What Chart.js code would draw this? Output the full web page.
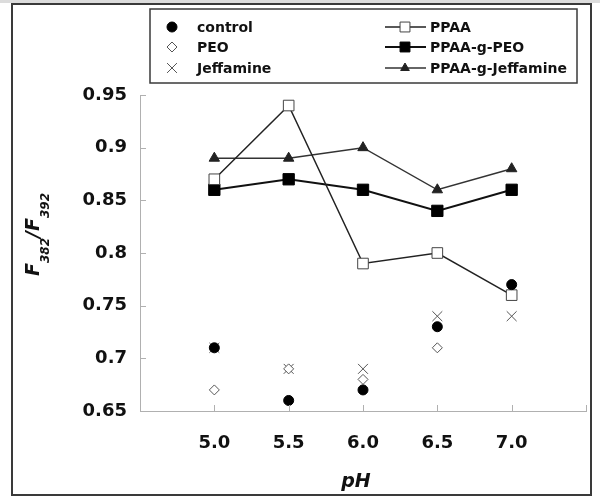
<!DOCTYPE html>
<html>
<head>
<meta charset="utf-8">
<script src="https://cdn.jsdelivr.net/npm/chart.js"></script>
<style>
  html, body { margin: 0; padding: 0; background: #fff; }
  #wrap { position: relative; width: 600px; height: 502px; }
  #strip { position: absolute; left: 0; top: 0; width: 600px; height: 3px; background: #dcdcdc; }
  #frame { position: absolute; left: 11px; top: 3px; width: 577px; height: 489px; border: 2px solid #3a3a3a; }
  canvas { position: absolute; left: 0; top: 0; }
</style>
</head>
<body>
<div id="wrap">
  <div id="strip"></div>
  <div id="frame"></div>
  <canvas id="chart" width="600" height="502"></canvas>
</div>
<script>
// pH values and measured F382/F392 ratios
const phValues = [5.0, 5.5, 6.0, 6.5, 7.0];
const xTickValues = [4.5, 5.0, 5.5, 6.0, 6.5, 7.0, 7.5];
const yTickValues = [0.65, 0.7, 0.75, 0.8, 0.85, 0.9, 0.95];

const control = [0.71, 0.66, 0.67, 0.73, 0.77];
const peo = [0.67, 0.69, 0.68, 0.71, null];
const jeffamine = [0.71, 0.69, 0.69, 0.74, 0.74];
const ppaa = [0.87, 0.94, 0.79, 0.80, 0.76];
const ppaaGPeo = [0.86, 0.87, 0.86, 0.84, 0.86];
const ppaaGJeffamine = [0.89, 0.89, 0.90, 0.86, 0.88];

const toPoints = arr => phValues.map((x, i) => ({ x: x, y: arr[i] }));

const AXIS_COLOR = '#b0b0b0';

// legend drawn as a boxed two-column key above the plot
const boxLegend = {
    id: 'boxLegend',
    afterDraw(chart) {
        const ctx = chart.ctx;
        const ds = chart.data.datasets;
        ctx.save();
        ctx.strokeStyle = '#3a3a3a';
        ctx.lineWidth = 1.5;
        ctx.strokeRect(150, 9, 427, 74);
        ctx.font = 'bold 14px "DejaVu Sans", sans-serif';
        ctx.textBaseline = 'middle';
        const rows = [27, 47, 68];
        ds.forEach((d, i) => {
            const col = i < 3 ? 0 : 1;
            const y = rows[i % 3];
            let mx, tx;
            if (col === 0) {
                mx = 172; tx = 197;
            } else {
                mx = 405; tx = 430;
                ctx.strokeStyle = d.borderColor;
                ctx.lineWidth = d.borderWidth;
                ctx.beginPath();
                ctx.moveTo(385, y);
                ctx.lineTo(426, y);
                ctx.stroke();
            }
            ctx.fillStyle = d.pointBackgroundColor;
            ctx.strokeStyle = d.pointBorderColor;
            ctx.lineWidth = d.pointBorderWidth;
            Chart.helpers.drawPoint(ctx, {
                pointStyle: d.pointStyle,
                radius: d.legendRadius,
                rotation: 0,
                borderWidth: d.pointBorderWidth
            }, mx, y);
            ctx.fillStyle = '#111';
            ctx.fillText(d.label, tx, y + 1);
        });
        ctx.restore();
    }
};

// inside tick marks and axis titles
const axisExtras = {
    id: 'axisExtras',
    afterDraw(chart) {
        const ctx = chart.ctx;
        const xs = chart.scales.x, ys = chart.scales.y;
        ctx.save();
        ctx.strokeStyle = AXIS_COLOR;
        ctx.lineWidth = 1;
        ctx.beginPath();
        xs.ticks.forEach(t => {
            const px = Math.round(xs.getPixelForValue(t.value)) + 0.5;
            ctx.moveTo(px, ys.bottom);
            ctx.lineTo(px, ys.bottom - 6);
        });
        ys.ticks.forEach(t => {
            const py = Math.round(ys.getPixelForValue(t.value)) + 0.5;
            ctx.moveTo(xs.left, py);
            ctx.lineTo(xs.left + 6, py);
        });
        ctx.stroke();

        // y title: F382/F392 with subscripts
        ctx.fillStyle = '#111';
        ctx.translate(39, 276);
        ctx.rotate(-Math.PI / 2);
        ctx.textBaseline = 'alphabetic';
        const big = 'italic bold 19px "DejaVu Sans", sans-serif';
        const small = 'italic bold 12px "DejaVu Sans", sans-serif';
        const parts = [['F', big, 0], ['382', small, 10], ['/F', big, 0], ['392', small, 10]];
        let cx = 0;
        parts.forEach(p => {
            ctx.font = p[1];
            ctx.fillText(p[0], cx, p[2]);
            cx += ctx.measureText(p[0]).width;
        });
        ctx.restore();

        ctx.save();
        ctx.fillStyle = '#111';
        ctx.font = 'italic bold 19px "DejaVu Sans", sans-serif';
        ctx.textAlign = 'center';
        ctx.textBaseline = 'alphabetic';
        ctx.fillText('pH', 356, 487);
        ctx.restore();
    }
};

new Chart(document.getElementById('chart'), {
    type: 'line',
    data: {
        datasets: [
            {
                label: 'control', data: toPoints(control), showLine: false,
                pointStyle: 'circle', pointRadius: 5, legendRadius: 5,
                pointBackgroundColor: '#000', pointBorderColor: '#000', pointBorderWidth: 1,
                borderColor: '#000', borderWidth: 1
            },
            {
                label: 'PEO', data: toPoints(peo), showLine: false,
                pointStyle: 'rectRot', pointRadius: 5, legendRadius: 5,
                pointBackgroundColor: '#fff', pointBorderColor: '#555', pointBorderWidth: 1,
                borderColor: '#555', borderWidth: 1
            },
            {
                label: 'Jeffamine', data: toPoints(jeffamine), showLine: false,
                pointStyle: 'crossRot', pointRadius: 7, legendRadius: 7,
                pointBackgroundColor: '#555', pointBorderColor: '#555', pointBorderWidth: 1,
                borderColor: '#555', borderWidth: 1
            },
            {
                label: 'PPAA', data: toPoints(ppaa), tension: 0,
                borderColor: '#222', borderWidth: 1.5,
                pointStyle: 'rect', pointRadius: 7.5, legendRadius: 7,
                pointBackgroundColor: '#fff', pointBorderColor: '#444', pointBorderWidth: 1
            },
            {
                label: 'PPAA-g-PEO', data: toPoints(ppaaGPeo), tension: 0,
                borderColor: '#111', borderWidth: 2,
                pointStyle: 'rect', pointRadius: 8, legendRadius: 7,
                pointBackgroundColor: '#000', pointBorderColor: '#000', pointBorderWidth: 1
            },
            {
                label: 'PPAA-g-Jeffamine', data: toPoints(ppaaGJeffamine), tension: 0,
                borderColor: '#333', borderWidth: 1.5,
                pointStyle: 'triangle', pointRadius: 6, legendRadius: 5,
                pointBackgroundColor: '#222', pointBorderColor: '#222', pointBorderWidth: 1
            }
        ]
    },
    options: {
        responsive: false,
        devicePixelRatio: 1,
        animation: false,
        layout: { padding: { top: 95, right: 14, left: 0, bottom: 0 } },
        plugins: { legend: { display: false }, tooltip: { enabled: false } },
        scales: {
            x: {
                type: 'linear', min: 4.5, max: 7.5,
                afterBuildTicks: s => { s.ticks = xTickValues.map(v => ({ value: v })); },
                afterFit: s => { s.height = 91; s.paddingLeft = 0; s.paddingRight = 0; },
                grid: { display: false, drawTicks: false },
                border: { display: true, color: AXIS_COLOR, width: 1 },
                ticks: {
                    padding: 22,
                    color: '#111',
                    font: { family: '"DejaVu Sans", sans-serif', size: 18, weight: 'bold' },
                    callback: v => (v === 4.5 || v === 7.5) ? '' : v.toFixed(1)
                }
            },
            y: {
                min: 0.65, max: 0.95,
                afterBuildTicks: s => { s.ticks = yTickValues.map(v => ({ value: v })); },
                afterFit: s => { s.width = 140; },
                grid: { display: false, drawTicks: false },
                border: { display: true, color: AXIS_COLOR, width: 1 },
                ticks: {
                    padding: 13,
                    color: '#111',
                    font: { family: '"DejaVu Sans", sans-serif', size: 18, weight: 'bold' },
                    callback: v => String(+v.toFixed(2))
                }
            }
        }
    },
    plugins: [boxLegend, axisExtras]
});
</script>
</body>
</html>
